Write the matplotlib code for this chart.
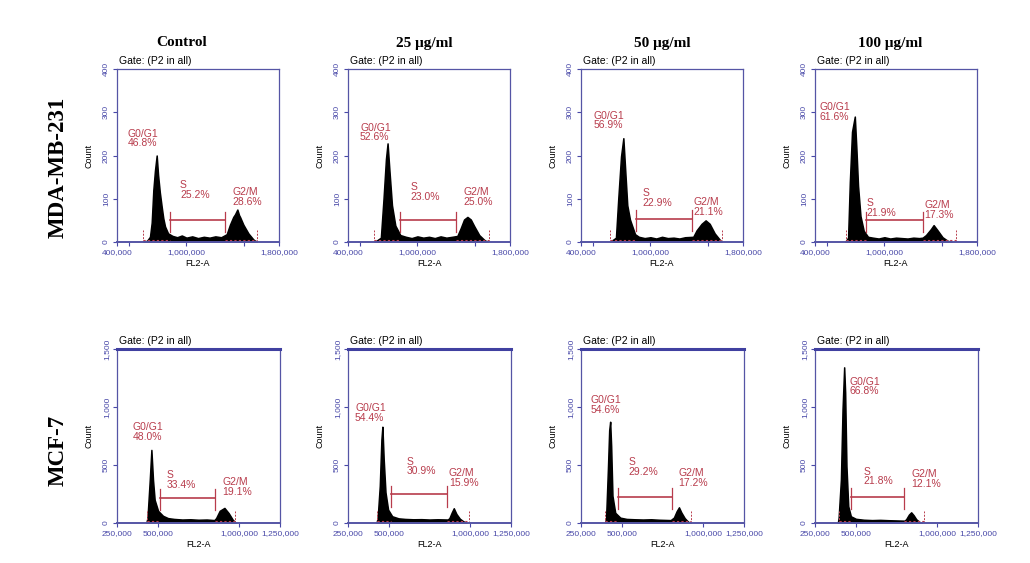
import matplotlib
matplotlib.use("Agg")
import matplotlib.pyplot as plt

# doses (column titles) and cell lines (row labels)
doses = ["Control", "25 μg/ml", "50 μg/ml", "100 μg/ml"]
cell_lines = ["MDA-MB-231", "MCF-7"]

# cell-cycle percentages
mda_g1 = [46.8, 52.6, 56.9, 61.6]
mda_s = [25.2, 23.0, 22.9, 21.9]
mda_g2 = [28.6, 25.0, 21.1, 17.3]
mcf_g1 = [48.0, 54.4, 54.6, 66.8]
mcf_s = [33.4, 30.9, 29.2, 21.8]
mcf_g2 = [19.1, 15.9, 17.2, 12.1]

# histogram outlines, FL2-A in thousands vs count
mda_ctrl_fl2 = [630, 660, 685, 700, 714, 728, 743, 755, 770, 786, 800, 815, 841, 880, 920, 960, 1000,
                1050, 1100, 1150, 1200, 1250, 1300, 1348, 1376, 1405, 1420, 1440, 1455, 1463, 1492, 1535, 1578, 1607]
mda_ctrl_cnt = [0, 3, 12, 45, 120, 165, 200, 155, 115, 82, 55, 36, 20, 14, 11, 15, 10,
                13, 9, 12, 10, 13, 11, 18, 40, 58, 64, 75, 62, 58, 40, 20, 6, 0]
mda_25_fl2 = [630, 684, 707, 728, 742, 759, 780, 809, 852, 900, 950, 1000, 1050, 1100, 1150, 1200,
              1250, 1300, 1345, 1374, 1403, 1432, 1461, 1490, 1534, 1577, 1606]
mda_25_cnt = [0, 10, 100, 192, 228, 162, 85, 38, 16, 12, 9, 13, 10, 12, 9, 13,
              10, 12, 14, 32, 52, 58, 52, 37, 16, 5, 0]
mda_50_fl2 = [650, 702, 722, 746, 766, 783, 800, 823, 867, 900, 950, 1000, 1050, 1100, 1150, 1200,
              1250, 1300, 1370, 1399, 1442, 1477, 1512, 1555, 1600, 1615]
mda_50_cnt = [0, 10, 100, 198, 240, 162, 85, 52, 18, 12, 9, 11, 8, 12, 9, 10,
              8, 11, 12, 27, 42, 50, 42, 20, 5, 0]
mda_100_fl2 = [660, 686, 701, 720, 744, 758, 772, 793, 821, 858, 900, 950, 1000, 1050, 1100, 1150,
               1200, 1250, 1300, 1330, 1359, 1402, 1425, 1459, 1502, 1545, 1580]
mda_100_cnt = [0, 10, 138, 255, 290, 215, 130, 60, 26, 12, 10, 8, 11, 8, 10, 9,
               8, 10, 9, 10, 16, 30, 39, 27, 11, 3, 0]

mcf_ctrl_fl2 = [430, 437, 451, 461, 471, 481, 502, 532, 563, 600, 650, 700, 750, 800, 847, 858,
                880, 909, 935, 960, 980]
mcf_ctrl_cnt = [0, 45, 370, 630, 370, 200, 105, 62, 42, 35, 30, 32, 28, 30, 25, 42,
                105, 130, 85, 28, 0]
mcf_25_fl2 = [425, 432, 445, 455, 461, 469, 480, 496, 521, 560, 600, 650, 700, 750, 800, 862,
              872, 887, 899, 915, 936, 957, 977]
mcf_25_cnt = [0, 45, 320, 720, 830, 550, 265, 115, 58, 40, 35, 32, 33, 30, 32, 30,
              42, 92, 127, 78, 37, 15, 0]
mcf_50_fl2 = [398, 404, 415, 423, 429, 435, 443, 460, 491, 530, 580, 630, 680, 730, 800, 820,
              837, 851, 865, 886, 906, 923]
mcf_50_cnt = [0, 45, 460, 800, 873, 665, 235, 88, 46, 35, 32, 30, 32, 28, 25, 47,
              102, 135, 92, 42, 12, 0]
mcf_100_fl2 = [390, 395, 409, 419, 429, 435, 443, 454, 470, 501, 550, 600, 650, 700, 750, 799,
               809, 826, 840, 855, 871, 892, 905]
mcf_100_cnt = [0, 45, 375, 980, 1342, 1125, 490, 145, 58, 36, 28, 25, 27, 24, 22, 20,
               32, 72, 92, 67, 32, 8, 0]

# gates: left marker, S start, S end, right marker (FL2-A, thousands)
mda_gates = [(625, 858, 1333, 1610), (626, 852, 1330, 1620), (653, 873, 1356, 1615), (666, 844, 1330, 1616)]
mda_sbar = [50, 50, 53, 50]
mcf_gates = [(431, 512, 851, 975), (428, 511, 857, 990), (398, 480, 806, 927), (398, 470, 799, 917)]
mcf_sbar = [215, 247, 227, 227]

# annotation anchors (FL2-A thousands, count) for G0/G1, S, G2/M labels
mda_lab_g1 = [(495, 262), (504, 276), (506, 304), (443, 323)]
mda_lab_s = [(944, 143), (939, 138), (930, 124), (844, 101)]
mda_lab_g2 = [(1394, 127), (1396, 127), (1368, 104), (1345, 97)]
mcf_lab_g1 = [(348, 870), (293, 1032), (310, 1103), (460, 1261)]
mcf_lab_s = [(555, 457), (608, 572), (542, 566), (548, 485)]
mcf_lab_g2 = [(896, 397), (868, 471), (849, 471), (840, 463)]

# axis ticks
mda_xticks = [400, 500, 1000, 1500, 1800]
mda_xlabels = ["400,000", "", "1,000,000", "", "1,800,000"]
mda_yticks = [0, 100, 200, 300, 400]
mda_ylabels = ["0", "100", "200", "300", "400"]
mcf_xticks = [250, 500, 1000, 1250]
mcf_xlabels = ["250,000", "500,000", "1,000,000", "1,250,000"]
mcf_yticks = [0, 500, 1000, 1500]
mcf_ylabels = ["0", "500", "1,000", "1,500"]

FRAME = "#5555a5"
TICKC = "#4848a8"
RED = "#b83c4c"
SANS = "Liberation Sans"
SERIF = "Liberation Serif"

fig = plt.figure(figsize=(10.3, 5.63), dpi=100)

lefts = [117, 348, 581, 815]
title_dx = [-16, -5, 0, -6]


def draw_panel(ax, fl2, cnt, gates, sbar, labs, pcts, xr, yr, xt, xl, yt, yl, thick_top):
    ax.fill_between(fl2, cnt, 0, color="black", lw=1.1, edgecolor="black")
    ax.set_xlim(*xr)
    ax.set_ylim(*yr)
    ymax = yr[1]
    g_left, s0, s1, g_right = gates
    # S gate bar with end ticks
    ax.plot([s0, s1], [sbar, sbar], color=RED, lw=1.2)
    for xx in (s0, s1):
        ax.plot([xx, xx], [sbar - 0.07 * ymax, sbar + 0.05 * ymax], color=RED, lw=0.9)
    # G0/G1 and G2/M gates near the baseline
    base = 0.012 * ymax
    ax.plot([g_left, s0], [base, base], color=RED, lw=0.8, ls=(0, (2, 2)))
    ax.plot([s1, g_right], [base, base], color=RED, lw=0.8, ls=(0, (2, 2)))
    for xx in (g_left, g_right):
        ax.plot([xx, xx], [0, 0.07 * ymax], color=RED, lw=0.7, ls=(0, (2, 1.5)))
    names = ["G0/G1", "S", "G2/M"]
    for (lx, ly), name, p in zip(labs, names, pcts):
        ax.text(lx, ly, f"{name}\n{p:.1f}%", color=RED, fontsize=7.5, family=SANS,
                va="top", ha="left", linespacing=0.95)
    ax.set_xticks(xt)
    ax.set_xticklabels(xl, fontsize=6, color=TICKC, family=SANS)
    ax.set_yticks(yt)
    ax.set_yticklabels(yl, fontsize=6, color=TICKC, family=SANS, rotation=90, va="center")
    ax.tick_params(direction="out", length=3, width=0.8, color=TICKC, pad=2)
    for s in ax.spines.values():
        s.set_color(FRAME)
        s.set_linewidth(0.9)
    ax.spines["bottom"].set_linewidth(1.4)
    if thick_top:
        ax.spines["top"].set_linewidth(2.2)
        ax.spines["top"].set_color("#4040a0")
    ax.set_ylabel("Count", fontsize=6.5, family=SANS, labelpad=7)
    ax.set_xlabel("FL2-A", fontsize=6.5, family=SANS, labelpad=2)
    ax.text(0.01, 1.015, "Gate: (P2 in all)", transform=ax.transAxes, fontsize=7.5,
            family=SANS, va="bottom", ha="left")


mda_fl2 = [mda_ctrl_fl2, mda_25_fl2, mda_50_fl2, mda_100_fl2]
mda_cnt = [mda_ctrl_cnt, mda_25_cnt, mda_50_cnt, mda_100_cnt]
mcf_fl2 = [mcf_ctrl_fl2, mcf_25_fl2, mcf_50_fl2, mcf_100_fl2]
mcf_cnt = [mcf_ctrl_cnt, mcf_25_cnt, mcf_50_cnt, mcf_100_cnt]

for i in range(4):
    # top row: MDA-MB-231
    ax = fig.add_axes([lefts[i] / 1030, 1 - 242 / 563, 162 / 1030, 173 / 563])
    draw_panel(ax, mda_fl2[i], mda_cnt[i], mda_gates[i], mda_sbar[i],
               [mda_lab_g1[i], mda_lab_s[i], mda_lab_g2[i]],
               [mda_g1[i], mda_s[i], mda_g2[i]],
               (400, 1800), (0, 400), mda_xticks, mda_xlabels, mda_yticks, mda_ylabels, False)
    fig.text((lefts[i] + 81 + title_dx[i]) / 1030, 1 - 43 / 563, doses[i], ha="center", va="center",
             fontsize=11, family=SERIF, fontweight="bold")

    # bottom row: MCF-7
    ax = fig.add_axes([lefts[i] / 1030, 1 - 523 / 563, 163 / 1030, 174 / 563])
    draw_panel(ax, mcf_fl2[i], mcf_cnt[i], mcf_gates[i], mcf_sbar[i],
               [mcf_lab_g1[i], mcf_lab_s[i], mcf_lab_g2[i]],
               [mcf_g1[i], mcf_s[i], mcf_g2[i]],
               (250, 1250), (0, 1500), mcf_xticks, mcf_xlabels, mcf_yticks, mcf_ylabels, True)

fig.text(58 / 1030, 1 - 167 / 563, cell_lines[0], rotation=90, ha="center", va="center",
         fontsize=16.5, family=SERIF, fontweight="bold")
fig.text(58 / 1030, 1 - 450 / 563, cell_lines[1], rotation=90, ha="center", va="center",
         fontsize=16.5, family=SERIF, fontweight="bold")

fig.savefig("out.png", dpi=100)
